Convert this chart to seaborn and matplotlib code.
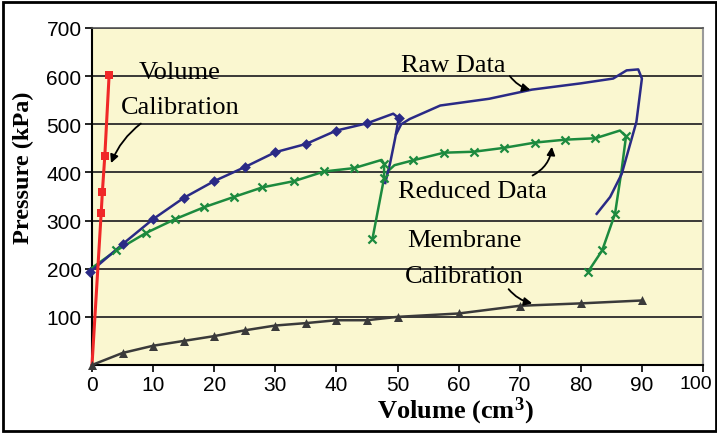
import matplotlib
matplotlib.use("Agg")
import matplotlib.pyplot as plt
import seaborn as sns
import pandas as pd
from matplotlib.patches import Rectangle
from matplotlib.transforms import ScaledTranslation

# ---------------- data ----------------
vol_cal_x = [0, 1.5, 1.7, 2.1, 2.8]
vol_cal_y = [0, 315, 360, 435, 602]

raw_load_x = [-0.3, 5, 10, 15, 20, 25, 30, 35, 40, 45, 49.3, 50.2]
raw_load_y = [193, 251, 303, 347, 382, 411, 442, 459, 487, 502, 522, 513]
raw_load_mark = [1, 1, 1, 1, 1, 1, 1, 1, 1, 1, 0, 1]
raw_unload_x = [50.2, 49.6, 48.8, 48.0]
raw_unload_y = [513, 470, 420, 378]
raw_reload_x = [49.8, 50.6, 52, 57, 65, 72, 80, 85.3, 87.5, 89.4, 90, 89.1, 86.7, 84.8, 82.6]
raw_reload_y = [480, 500, 511, 539, 553, 572, 585, 595, 612, 614, 595, 505, 397, 349, 314]

red_load_x = [-0.2, 4.0, 8.8, 13.6, 18.4, 23.2, 27.9, 33.1, 38, 42.9, 47.4, 47.8, 47.8, 45.9]
red_load_y = [200, 238, 274, 303, 328, 349, 369, 382, 402, 409, 426, 418, 388, 262]
red_load_mark = [0, 1, 1, 1, 1, 1, 1, 1, 1, 1, 0, 1, 1, 1]
red_reload_x = [48.2, 49.5, 52.5, 57.6, 62.5, 67.4, 72.5, 77.4, 82.4, 86.4, 87.4, 86.7, 85.6, 83.5, 81.2]
red_reload_y = [400, 415, 425, 441, 443, 451, 462, 468, 471, 487, 475, 407, 314, 238, 194]
red_reload_mark = [0, 0, 1, 1, 1, 1, 1, 1, 1, 0, 1, 0, 1, 1, 1]

mem_x = [0, 5, 10, 15, 20, 25, 30, 35, 40, 45, 50, 60, 70, 80, 90]
mem_y = [0, 25, 40, 50, 60, 72, 82, 87, 93, 93, 100, 107, 123, 128, 134]

x_ticks = [0, 10, 20, 30, 40, 50, 60, 70, 80, 90, 100]
y_ticks = [100, 200, 300, 400, 500, 600, 700]

# ---------------- style ----------------
plt.rcParams['mathtext.fontset'] = 'custom'
plt.rcParams['mathtext.bf'] = 'Liberation Serif:bold'
plt.rcParams['mathtext.rm'] = 'Liberation Serif:bold'
plt.rcParams['mathtext.default'] = 'bf'

RED = '#F02828'
NAVY = '#2A2A86'
GREEN = '#1C8A3E'
GREY = '#3A3A3A'
BG = '#FAF7D0'

fig = plt.figure(figsize=(7.17, 4.35), dpi=100)
ax = fig.add_axes([92/717, 1-366/435, (703-92)/717, (366-29)/435])
ax.set_facecolor(BG)

# grid lines
for yv in y_ticks:
    ax.axhline(yv, color='#2a2a2a', lw=1.3, zorder=1)

def line(x, y, color, lw=1.8):
    df = pd.DataFrame({'x': x, 'y': y})
    sns.lineplot(data=df, x='x', y='y', sort=False, estimator=None, ax=ax,
                 color=color, lw=lw, zorder=3, clip_on=False)

def marks(x, y, mask, color, marker, size, ew=0.0):
    df = pd.DataFrame({'x': x, 'y': y, 'm': mask})
    df = df[df['m'] == 1]
    if marker == 'x':
        sns.scatterplot(data=df, x='x', y='y', ax=ax, marker='x', color=color,
                        s=size, linewidth=1.6, zorder=4, clip_on=False)
    else:
        sns.scatterplot(data=df, x='x', y='y', ax=ax, marker=marker, color=color,
                        s=size, edgecolor=color, linewidth=ew, zorder=4, clip_on=False)

# membrane calibration
line(mem_x, mem_y, GREY)
marks(mem_x, mem_y, [1] * len(mem_x), GREY, '^', 42)

# reduced data
line(red_load_x, red_load_y, GREEN)
marks(red_load_x, red_load_y, red_load_mark, GREEN, 'x', 34)
line(red_reload_x, red_reload_y, GREEN)
marks(red_reload_x, red_reload_y, red_reload_mark, GREEN, 'x', 34)

# raw data
line(raw_load_x, raw_load_y, NAVY)
marks(raw_load_x, raw_load_y, raw_load_mark, NAVY, 'D', 30)
line(raw_unload_x, raw_unload_y, NAVY)
line(raw_reload_x, raw_reload_y, NAVY)

# volume calibration
line(vol_cal_x, vol_cal_y, RED, lw=2.2)
marks(vol_cal_x, vol_cal_y, [0, 1, 1, 1, 1], RED, 's', 30)

ax.set_xlim(0, 100)
ax.set_ylim(0, 700)
ax.set_xticks(x_ticks)
ax.set_yticks(y_ticks)
tick_font = ['Liberation Sans Narrow', 'Liberation Sans']
ax.set_xticklabels([str(v) for v in x_ticks], fontfamily=tick_font, fontsize=15)
ax.set_yticklabels([str(v) for v in y_ticks], fontfamily=tick_font, fontsize=15)
ax.tick_params(axis='both', direction='out', length=5, width=1.2, color='black', pad=2.5)
ax.set_xlabel('')
ax.set_ylabel('')

# keep the last x tick label inside the figure
last = ax.get_xticklabels()[-1]
last.set_fontsize(14)
last.set_transform(last.get_transform() + ScaledTranslation(-5/72, 0, fig.dpi_scale_trans))

for side in ['left', 'bottom']:
    ax.spines[side].set_color('black')
    ax.spines[side].set_linewidth(1.5)
ax.spines['top'].set_color('#555555')
ax.spines['top'].set_linewidth(1.2)
ax.spines['right'].set_color('#9a9a9a')
ax.spines['right'].set_linewidth(1.5)

# axis titles
ax.text(0.594, -0.135, 'Volume (cm$^3$)', transform=ax.transAxes, ha='center', va='center',
        fontfamily='Liberation Serif', fontweight='bold', fontsize=19)
ax.text(-0.113, 0.588, 'Pressure (kPa)', transform=ax.transAxes, ha='center', va='center',
        rotation=90, fontfamily='Liberation Serif', fontweight='bold', fontsize=17.5)

# annotations
ann_font = dict(fontfamily='Liberation Serif', fontsize=19, ha='center', va='center', zorder=6)
arrow_kw = dict(arrowstyle='-|>', color='black', lw=1.3, mutation_scale=12)

ax.text(14.4, 609, 'Volume', **ann_font)
ax.text(14.4, 536, 'Calibration', **ann_font)
ax.annotate('', xy=(2.95, 414), xytext=(8.35, 505),
            arrowprops=dict(connectionstyle='arc3,rad=0.15', **arrow_kw), zorder=6)

ax.text(59.2, 624, 'Raw Data', **ann_font)
ax.annotate('', xy=(72.2, 570), xytext=(68.1, 605),
            arrowprops=dict(connectionstyle='arc3,rad=0.2', **arrow_kw), zorder=6)

ax.text(62.2, 362, 'Reduced Data', **ann_font)
ax.annotate('', xy=(75.3, 459), xytext=(71.7, 391),
            arrowprops=dict(connectionstyle='arc3,rad=0.3', **arrow_kw), zorder=6)

ax.text(61.0, 260, 'Membrane', **ann_font)
ax.text(60.9, 185, 'Calibration', **ann_font)
ax.annotate('', xy=(72.5, 127), xytext=(67.9, 162),
            arrowprops=dict(connectionstyle='arc3,rad=0.2', **arrow_kw), zorder=6)

# figure border
fig.patches.append(Rectangle((0.004, 0.006), 0.9945, 0.988, transform=fig.transFigure,
                             fill=False, edgecolor='black', lw=2.0))

fig.savefig('out.png', dpi=100, facecolor='white')
